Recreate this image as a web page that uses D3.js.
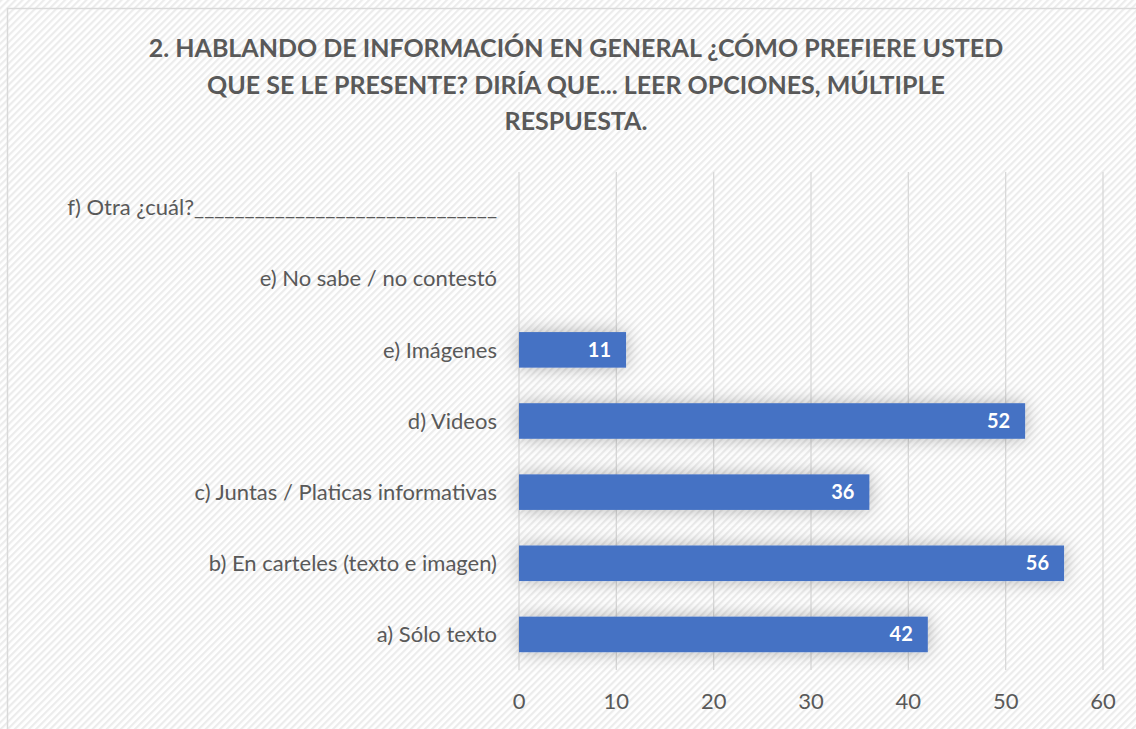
<!DOCTYPE html>
<html>
<head>
<meta charset="utf-8">
<script src="https://cdn.jsdelivr.net/npm/d3@7"></script>
<style>
  body { margin: 0; background: #fff; }
  svg { display: block; }
</style>
</head>
<body>
<svg id="chart" width="1136" height="729"></svg>
<script>
// categories, bottom to top
const categories = [
    "a) Sólo texto",
    "b) En carteles (texto e imagen)",
    "c) Juntas / Platicas informativas",
    "d) Videos",
    "e) Imágenes",
    "e) No sabe / no contestó",
    "f) Otra ¿cuál?______________________________"
];
const values = [42, 56, 36, 52, 11, null, null];
const xTicks = [0, 10, 20, 30, 40, 50, 60];
const titleLines = [
    "2. HABLANDO DE INFORMACIÓN EN GENERAL ¿CÓMO PREFIERE USTED",
    "QUE SE LE PRESENTE? DIRÍA QUE... LEER OPCIONES, MÚLTIPLE",
    "RESPUESTA."
];

const font = "Lato, 'Open Sans', sans-serif";
const svg = d3.select("#chart");
const W = +svg.attr("width"), H = +svg.attr("height");

const defs = svg.append("defs");
const pat = defs.append("pattern")
    .attr("id", "stripes")
    .attr("width", 5).attr("height", 5)
    .attr("patternUnits", "userSpaceOnUse")
    .attr("patternTransform", "rotate(-45)");
pat.append("rect").attr("width", 5).attr("height", 5).attr("fill", "#ffffff");
pat.append("rect").attr("width", 5).attr("height", 2.2).attr("fill", "#ececec");

const shadow = defs.append("filter").attr("id", "shadow")
    .attr("x", "-20%").attr("y", "-80%").attr("width", "140%").attr("height", "260%");
shadow.append("feDropShadow")
    .attr("dx", 0).attr("dy", 0).attr("stdDeviation", 9)
    .attr("flood-color", "#000").attr("flood-opacity", 0.28);

// background + frame
svg.append("rect").attr("width", W).attr("height", H).attr("fill", "url(#stripes)");
svg.append("rect")
    .attr("x", 7.5).attr("y", 8.5)
    .attr("width", W + 20).attr("height", H + 20)
    .attr("fill", "none").attr("stroke", "#d9d9d9").attr("stroke-width", 1.5);

// title
svg.append("g").selectAll("text")
    .data(titleLines)
    .enter().append("text")
    .attr("x", 576)
    .attr("y", (d, i) => 57 + i * 36.5)
    .attr("text-anchor", "middle")
    .attr("font-family", font)
    .attr("font-size", "25px")
    .attr("font-weight", "bold")
    .attr("fill", "#595959")
    .text(d => d);

const margin = { top: 172, left: 519, right: 33, bottom: 59 };
const width = W - margin.left - margin.right;
const height = H - margin.top - margin.bottom;

const x = d3.scaleLinear().domain([0, 60]).range([0, 584]);
const y = d3.scaleBand().domain(categories.slice().reverse()).range([0, height]).paddingInner(0.5).paddingOuter(0.25);

const g = svg.append("g").attr("transform", `translate(${margin.left},${margin.top})`);

// gridlines
g.selectAll(".grid")
    .data(xTicks)
    .enter().append("line")
    .attr("x1", d => x(d)).attr("x2", d => x(d))
    .attr("y1", 0).attr("y2", height)
    .attr("stroke", "#d9d9d9").attr("stroke-width", 1.3);

// bars
const barData = categories.map((c, i) => ({ c: c, v: values[i] })).filter(d => d.v != null);
g.selectAll(".bar")
    .data(barData)
    .enter().append("rect")
    .attr("x", 0)
    .attr("y", d => y(d.c))
    .attr("width", d => x(d.v))
    .attr("height", y.bandwidth())
    .attr("fill", "#4472c4")
    .attr("filter", "url(#shadow)");

// value labels
g.selectAll(".val")
    .data(barData)
    .enter().append("text")
    .attr("x", d => x(d.v) - 15)
    .attr("y", d => y(d.c) + y.bandwidth() / 2)
    .attr("dy", "0.35em")
    .attr("text-anchor", "end")
    .attr("font-family", font)
    .attr("font-size", "20px")
    .attr("font-weight", "bold")
    .attr("fill", "#ffffff")
    .text(d => d.v);

// category labels
g.selectAll(".cat")
    .data(categories)
    .enter().append("text")
    .attr("x", -22)
    .attr("y", d => y(d) + y.bandwidth() / 2)
    .attr("dy", "0.35em")
    .attr("text-anchor", "end")
    .attr("font-family", font)
    .attr("font-size", "22px")
    .attr("fill", "#595959")
    .text(d => d);

// x tick labels
g.selectAll(".tick-label")
    .data(xTicks)
    .enter().append("text")
    .attr("x", d => x(d))
    .attr("y", height + 39)
    .attr("text-anchor", "middle")
    .attr("font-family", font)
    .attr("font-size", "22px")
    .attr("fill", "#595959")
    .text(d => d);
</script>
</body>
</html>
